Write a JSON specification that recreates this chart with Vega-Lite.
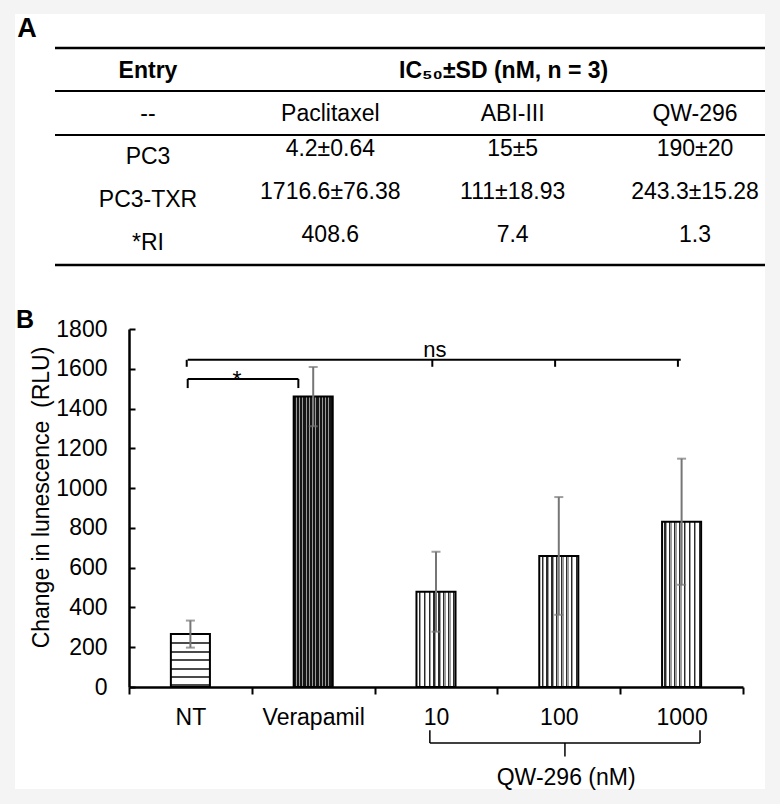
{
  "$schema": "https://vega.github.io/schema/vega-lite/v6.json",
  "width": 750,
  "height": 775,
  "autosize": {"type": "none"},
  "padding": {"left": 15, "top": 14, "right": 15, "bottom": 15},
  "background": "#f4f4f4",
  "config": {
    "font": "Liberation Sans",
    "view": {"fill": "white", "stroke": null},
    "text": {"fontSize": 23, "color": "black"}
  },
  "resolve": {"scale": {"x": "independent", "y": "independent"}},
  "layer": [
    {
      "data": {
        "values": [
          {"row": "header", "col": "Entry", "text": "Entry"},
          {"row": "header", "col": "ABI-III", "text": "IC₅₀±SD (nM, n = 3)"},
          {"row": "cols", "col": "Entry", "text": "--"},
          {"row": "cols", "col": "Paclitaxel", "text": "Paclitaxel"},
          {"row": "cols", "col": "ABI-III", "text": "ABI-III"},
          {"row": "cols", "col": "QW-296", "text": "QW-296"},
          {"row": "PC3", "col": "Entry", "text": "PC3"},
          {"row": "PC3", "col": "Paclitaxel", "text": "4.2±0.64"},
          {"row": "PC3", "col": "ABI-III", "text": "15±5"},
          {"row": "PC3", "col": "QW-296", "text": "190±20"},
          {"row": "PC3-TXR", "col": "Entry", "text": "PC3-TXR"},
          {"row": "PC3-TXR", "col": "Paclitaxel", "text": "1716.6±76.38"},
          {"row": "PC3-TXR", "col": "ABI-III", "text": "111±18.93"},
          {"row": "PC3-TXR", "col": "QW-296", "text": "243.3±15.28"},
          {"row": "RI", "col": "Entry", "text": "*RI"},
          {"row": "RI", "col": "Paclitaxel", "text": "408.6"},
          {"row": "RI", "col": "ABI-III", "text": "7.4"},
          {"row": "RI", "col": "QW-296", "text": "1.3"}
        ]
      },
      "encoding": {
        "x": {"field": "col", "type": "nominal", "scale": {"type": "point", "domain": ["Entry", "Paclitaxel", "ABI-III", "QW-296"], "range": [133, 680], "padding": 0}, "axis": null},
        "y": {"field": "row", "type": "nominal", "scale": {"type": "point", "domain": ["header", "cols", "PC3", "PC3-TXR", "RI"], "range": [57, 229], "padding": 0}, "axis": null}
      },
      "layer": [
        {
          "data": {"values": [{}]},
          "mark": {"type": "rule", "strokeWidth": 2.5, "color": "black", "yOffset": -23, "xOffset": -93, "x2Offset": 70},
          "encoding": {"x": {"datum": "Entry"}, "x2": {"datum": "QW-296"}, "y": {"datum": "header"}}
        },
        {
          "data": {"values": [{}]},
          "mark": {"type": "rule", "strokeWidth": 2, "color": "black", "yOffset": -23, "xOffset": -93, "x2Offset": 70},
          "encoding": {"x": {"datum": "Entry"}, "x2": {"datum": "QW-296"}, "y": {"datum": "cols"}}
        },
        {
          "data": {"values": [{}]},
          "mark": {"type": "rule", "strokeWidth": 2, "color": "black", "yOffset": 21, "xOffset": -93, "x2Offset": 70},
          "encoding": {"x": {"datum": "Entry"}, "x2": {"datum": "QW-296"}, "y": {"datum": "cols"}}
        },
        {
          "data": {"values": [{}]},
          "mark": {"type": "rule", "strokeWidth": 2.5, "color": "black", "yOffset": 22, "xOffset": -93, "x2Offset": 70},
          "encoding": {"x": {"datum": "Entry"}, "x2": {"datum": "QW-296"}, "y": {"datum": "RI"}}
        },
        {
          "data": {"values": [{}]},
          "mark": {"type": "text", "text": "A", "fontSize": 27, "fontWeight": "bold", "align": "center", "baseline": "alphabetic", "dx": -121, "dy": -34},
          "encoding": {"x": {"datum": "Entry"}, "y": {"datum": "header"}}
        },
        {
          "transform": [{"filter": "datum.row === 'header' && datum.col === 'Entry'"}],
          "mark": {"type": "text", "fontWeight": "bold", "align": "center", "baseline": "middle"},
          "encoding": {"text": {"field": "text"}}
        },
        {
          "transform": [{"filter": "datum.row === 'header' && datum.col !== 'Entry'"}],
          "mark": {"type": "text", "fontWeight": "bold", "align": "center", "baseline": "middle", "dx": -9},
          "encoding": {"text": {"field": "text"}}
        },
        {
          "transform": [{"filter": "datum.row !== 'header' && (datum.row === 'cols' || datum.col === 'Entry')"}],
          "mark": {"type": "text", "align": "center", "baseline": "middle"},
          "encoding": {"text": {"field": "text"}}
        },
        {
          "transform": [{"filter": "datum.row !== 'header' && datum.row !== 'cols' && datum.col !== 'Entry'"}],
          "mark": {"type": "text", "align": "center", "baseline": "middle", "dy": -8},
          "encoding": {"text": {"field": "text"}}
        }
      ]
    },
    {
      "data": {
        "values": [
          {"cat": "NT", "mean": 266, "sd": 68},
          {"cat": "Verapamil", "mean": 1460, "sd": 149},
          {"cat": "10", "mean": 479, "sd": 201},
          {"cat": "100", "mean": 659, "sd": 296},
          {"cat": "1000", "mean": 831, "sd": 317}
        ]
      },
      "layer": [
        {
          "mark": {"type": "bar", "width": {"band": 0.318}, "stroke": "black", "strokeWidth": 2},
          "encoding": {
            "x": {
              "field": "cat", "type": "nominal",
              "scale": {"domain": ["NT", "Verapamil", "10", "100", "1000"], "range": [114, 728], "paddingInner": 0, "paddingOuter": 0},
              "axis": {"orient": "bottom", "offset": -102, "tickBand": "extent", "tickSize": 7, "tickWidth": 2, "tickColor": "black", "domainWidth": 2.5, "domainColor": "black", "labelAngle": 0, "labelFontSize": 23, "labelColor": "black", "labelPadding": 12, "title": null}
            },
            "y": {
              "field": "mean", "type": "quantitative",
              "title": "Change in lunescence \u00a0(RLU)",
              "scale": {"domain": [0, 1800], "range": [673, 315], "nice": false},
              "axis": {"values": [0, 200, 400, 600, 800, 1000, 1200, 1400, 1600, 1800], "format": "d", "offset": -114, "grid": false, "tickSize": -6, "tickWidth": 2, "tickColor": "black", "domainWidth": 2.5, "domainColor": "black", "labelFontSize": 23, "labelColor": "black", "labelPadding": 28, "labelOverlap": false, "labelFlush": false, "titleFontSize": 23, "titleFontWeight": "normal", "titleColor": "black", "titleX": -76, "titleY": 483}
            },
            "fill": {
              "condition": [
                {"test": "datum.cat === 'NT'", "value": {"gradient": "linear", "x1": 0, "y1": 0, "x2": 0, "y2": 1, "stops": [
                  {"offset": 0, "color": "#ffffff"}, {"offset": 0.155, "color": "#ffffff"}, {"offset": 0.155, "color": "#4a4a4a"}, {"offset": 0.195, "color": "#4a4a4a"}, {"offset": 0.195, "color": "#ffffff"},
                  {"offset": 0.323, "color": "#ffffff"}, {"offset": 0.323, "color": "#4a4a4a"}, {"offset": 0.363, "color": "#4a4a4a"}, {"offset": 0.363, "color": "#ffffff"},
                  {"offset": 0.477, "color": "#ffffff"}, {"offset": 0.477, "color": "#4a4a4a"}, {"offset": 0.517, "color": "#4a4a4a"}, {"offset": 0.517, "color": "#ffffff"},
                  {"offset": 0.632, "color": "#ffffff"}, {"offset": 0.632, "color": "#4a4a4a"}, {"offset": 0.672, "color": "#4a4a4a"}, {"offset": 0.672, "color": "#ffffff"},
                  {"offset": 0.788, "color": "#ffffff"}, {"offset": 0.788, "color": "#4a4a4a"}, {"offset": 0.828, "color": "#4a4a4a"}, {"offset": 0.828, "color": "#ffffff"},
                  {"offset": 0.94, "color": "#ffffff"}, {"offset": 0.94, "color": "#4a4a4a"}, {"offset": 0.98, "color": "#4a4a4a"}, {"offset": 0.98, "color": "#ffffff"}, {"offset": 1, "color": "#ffffff"}
                ]}},
                {"test": "datum.cat === 'Verapamil'", "value": {"gradient": "linear", "x1": 0, "y1": 0, "x2": 1, "y2": 0, "stops": [
                  {"offset": 0, "color": "#161616"}, {"offset": 0.055, "color": "#161616"}, {"offset": 0.055, "color": "#9a9a9a"}, {"offset": 0.0833, "color": "#9a9a9a"},
                  {"offset": 0.0833, "color": "#161616"}, {"offset": 0.1383, "color": "#161616"}, {"offset": 0.1383, "color": "#9a9a9a"}, {"offset": 0.1667, "color": "#9a9a9a"},
                  {"offset": 0.1667, "color": "#161616"}, {"offset": 0.2217, "color": "#161616"}, {"offset": 0.2217, "color": "#9a9a9a"}, {"offset": 0.25, "color": "#9a9a9a"},
                  {"offset": 0.25, "color": "#161616"}, {"offset": 0.305, "color": "#161616"}, {"offset": 0.305, "color": "#9a9a9a"}, {"offset": 0.3333, "color": "#9a9a9a"},
                  {"offset": 0.3333, "color": "#161616"}, {"offset": 0.3883, "color": "#161616"}, {"offset": 0.3883, "color": "#9a9a9a"}, {"offset": 0.4167, "color": "#9a9a9a"},
                  {"offset": 0.4167, "color": "#161616"}, {"offset": 0.4717, "color": "#161616"}, {"offset": 0.4717, "color": "#9a9a9a"}, {"offset": 0.5, "color": "#9a9a9a"},
                  {"offset": 0.5, "color": "#161616"}, {"offset": 0.555, "color": "#161616"}, {"offset": 0.555, "color": "#9a9a9a"}, {"offset": 0.5833, "color": "#9a9a9a"},
                  {"offset": 0.5833, "color": "#161616"}, {"offset": 0.6383, "color": "#161616"}, {"offset": 0.6383, "color": "#9a9a9a"}, {"offset": 0.6667, "color": "#9a9a9a"},
                  {"offset": 0.6667, "color": "#161616"}, {"offset": 0.7217, "color": "#161616"}, {"offset": 0.7217, "color": "#9a9a9a"}, {"offset": 0.75, "color": "#9a9a9a"},
                  {"offset": 0.75, "color": "#161616"}, {"offset": 0.805, "color": "#161616"}, {"offset": 0.805, "color": "#9a9a9a"}, {"offset": 0.8333, "color": "#9a9a9a"},
                  {"offset": 0.8333, "color": "#161616"}, {"offset": 0.8883, "color": "#161616"}, {"offset": 0.8883, "color": "#9a9a9a"}, {"offset": 0.9167, "color": "#9a9a9a"},
                  {"offset": 0.9167, "color": "#161616"}, {"offset": 0.9717, "color": "#161616"}, {"offset": 0.9717, "color": "#9a9a9a"}, {"offset": 1, "color": "#9a9a9a"}
                ]}}
              ],
              "value": {"gradient": "linear", "x1": 0, "y1": 0, "x2": 1, "y2": 0, "stops": [
                {"offset": 0, "color": "#ffffff"}, {"offset": 0.06, "color": "#ffffff"}, {"offset": 0.06, "color": "#2a2a2a"}, {"offset": 0.09, "color": "#2a2a2a"}, {"offset": 0.09, "color": "#9c9c9c"}, {"offset": 0.125, "color": "#9c9c9c"},
                {"offset": 0.125, "color": "#ffffff"}, {"offset": 0.185, "color": "#ffffff"}, {"offset": 0.185, "color": "#2a2a2a"}, {"offset": 0.215, "color": "#2a2a2a"}, {"offset": 0.215, "color": "#9c9c9c"}, {"offset": 0.25, "color": "#9c9c9c"},
                {"offset": 0.25, "color": "#ffffff"}, {"offset": 0.31, "color": "#ffffff"}, {"offset": 0.31, "color": "#2a2a2a"}, {"offset": 0.34, "color": "#2a2a2a"}, {"offset": 0.34, "color": "#9c9c9c"}, {"offset": 0.375, "color": "#9c9c9c"},
                {"offset": 0.375, "color": "#ffffff"}, {"offset": 0.435, "color": "#ffffff"}, {"offset": 0.435, "color": "#2a2a2a"}, {"offset": 0.465, "color": "#2a2a2a"}, {"offset": 0.465, "color": "#9c9c9c"}, {"offset": 0.5, "color": "#9c9c9c"},
                {"offset": 0.5, "color": "#ffffff"}, {"offset": 0.56, "color": "#ffffff"}, {"offset": 0.56, "color": "#2a2a2a"}, {"offset": 0.59, "color": "#2a2a2a"}, {"offset": 0.59, "color": "#9c9c9c"}, {"offset": 0.625, "color": "#9c9c9c"},
                {"offset": 0.625, "color": "#ffffff"}, {"offset": 0.685, "color": "#ffffff"}, {"offset": 0.685, "color": "#2a2a2a"}, {"offset": 0.715, "color": "#2a2a2a"}, {"offset": 0.715, "color": "#9c9c9c"}, {"offset": 0.75, "color": "#9c9c9c"},
                {"offset": 0.75, "color": "#ffffff"}, {"offset": 0.81, "color": "#ffffff"}, {"offset": 0.81, "color": "#2a2a2a"}, {"offset": 0.84, "color": "#2a2a2a"}, {"offset": 0.84, "color": "#9c9c9c"}, {"offset": 0.875, "color": "#9c9c9c"},
                {"offset": 0.875, "color": "#ffffff"}, {"offset": 0.935, "color": "#ffffff"}, {"offset": 0.935, "color": "#2a2a2a"}, {"offset": 0.965, "color": "#2a2a2a"}, {"offset": 0.965, "color": "#9c9c9c"}, {"offset": 1, "color": "#9c9c9c"}
              ]}
            }
          }
        },
        {
          "mark": {"type": "errorbar", "ticks": true, "color": "#767676", "thickness": 2, "size": 9},
          "encoding": {
            "x": {"field": "cat", "type": "nominal"},
            "y": {"field": "mean", "type": "quantitative", "title": "Change in lunescence \u00a0(RLU)"},
            "yError": {"field": "sd"}
          }
        },
        {
          "data": {"values": [{}]},
          "mark": {"type": "rule", "color": "black", "strokeWidth": 2},
          "encoding": {"x": {"datum": "NT", "bandPosition": 0.478}, "x2": {"datum": "1000", "bandPosition": 0.493}, "y": {"datum": 1645}}
        },
        {
          "data": {"values": [{"cat": "NT"}, {"cat": "10"}, {"cat": "100"}, {"cat": "1000"}]},
          "mark": {"type": "rule", "color": "black", "strokeWidth": 2},
          "encoding": {"x": {"field": "cat", "type": "nominal", "bandPosition": 0.47}, "y": {"datum": 1645}, "y2": {"datum": 1610}}
        },
        {
          "data": {"values": [{}]},
          "mark": {"type": "text", "text": "ns", "fontSize": 22, "align": "center", "baseline": "alphabetic", "dy": -3},
          "encoding": {"x": {"datum": "10", "bandPosition": 0.49}, "y": {"datum": 1645}}
        },
        {
          "data": {"values": [{}]},
          "mark": {"type": "rule", "color": "black", "strokeWidth": 2},
          "encoding": {"x": {"datum": "NT", "bandPosition": 0.478}, "x2": {"datum": "Verapamil", "bandPosition": 0.379}, "y": {"datum": 1549}}
        },
        {
          "data": {"values": [{}]},
          "mark": {"type": "rule", "color": "black", "strokeWidth": 2},
          "encoding": {"x": {"datum": "NT", "bandPosition": 0.478}, "y": {"datum": 1549}, "y2": {"datum": 1503}}
        },
        {
          "data": {"values": [{}]},
          "mark": {"type": "rule", "color": "black", "strokeWidth": 2},
          "encoding": {"x": {"datum": "Verapamil", "bandPosition": 0.379}, "y": {"datum": 1549}, "y2": {"datum": 1503}}
        },
        {
          "data": {"values": [{}]},
          "mark": {"type": "text", "text": "*", "fontSize": 23, "align": "center", "baseline": "alphabetic", "dy": 9},
          "encoding": {"x": {"datum": "NT", "bandPosition": 0.88}, "y": {"datum": 1549}}
        },
        {
          "data": {"values": [{}]},
          "mark": {"type": "text", "text": "B", "fontSize": 25, "fontWeight": "bold", "align": "center", "baseline": "alphabetic", "dx": -104, "dy": -1},
          "encoding": {"x": {"datum": "NT", "bandPosition": 0}, "y": {"datum": 1800}}
        },
        {
          "data": {"values": [{}]},
          "mark": {"type": "rule", "color": "black", "strokeWidth": 1.5},
          "encoding": {"x": {"datum": "10", "bandPosition": 0.45}, "x2": {"datum": "1000", "bandPosition": 0.65}, "y": {"datum": -282}}
        },
        {
          "data": {"values": [{}]},
          "mark": {"type": "rule", "color": "black", "strokeWidth": 1.5},
          "encoding": {"x": {"datum": "10", "bandPosition": 0.45}, "y": {"datum": -282}, "y2": {"datum": -218}}
        },
        {
          "data": {"values": [{}]},
          "mark": {"type": "rule", "color": "black", "strokeWidth": 1.5},
          "encoding": {"x": {"datum": "1000", "bandPosition": 0.65}, "y": {"datum": -282}, "y2": {"datum": -218}}
        },
        {
          "data": {"values": [{}]},
          "mark": {"type": "rule", "color": "black", "strokeWidth": 1.5},
          "encoding": {"x": {"datum": "100", "bandPosition": 0.55}, "y": {"datum": -282}, "y2": {"datum": -350}}
        },
        {
          "data": {"values": [{}]},
          "mark": {"type": "text", "text": "QW-296 (nM)", "fontSize": 23, "align": "center", "baseline": "middle"},
          "encoding": {"x": {"datum": "100", "bandPosition": 0.56}, "y": {"datum": -458}}
        }
      ]
    }
  ]
}
